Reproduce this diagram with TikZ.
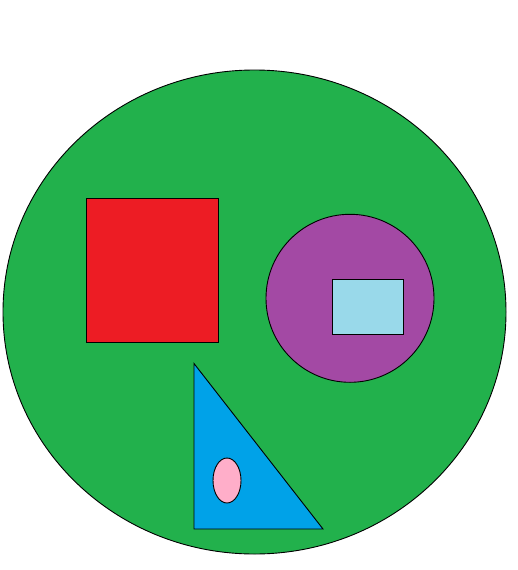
\documentclass[tikz,border=0pt]{standalone}
\usepackage{tikz}
\definecolor{paintgreen}{HTML}{22B14C}
\definecolor{paintred}{HTML}{ED1C24}
\definecolor{paintpurple}{HTML}{A349A4}
\definecolor{paintsky}{HTML}{99D9EA}
\definecolor{paintblue}{HTML}{00A2E8}
\definecolor{paintpink}{HTML}{FFAEC9}

\begin{document}
\begin{tikzpicture}[
    x=1pt, y=-1pt,
    shapeline/.style={draw=black, line width=0.9pt}
]
    \useasboundingbox (0,0) rectangle (518,570);
    % outer disc
    \fill[paintgreen, shapeline] (254.5,312) ellipse [x radius=251.5, y radius=242];
    % shapes inside
    \fill[paintred, shapeline] (86,198) rectangle (218,342);
    \fill[paintpurple, shapeline] (350,298.3) circle [radius=84];
    \fill[paintsky, shapeline] (332.3,279) rectangle (403.7,334.3);
    \fill[paintblue, shapeline] (194,363.5) -- (194,529) -- (323,529) -- cycle;
    \fill[paintpink, shapeline] (227,480.5) ellipse [x radius=14, y radius=22.5];
\end{tikzpicture}
\end{document}
